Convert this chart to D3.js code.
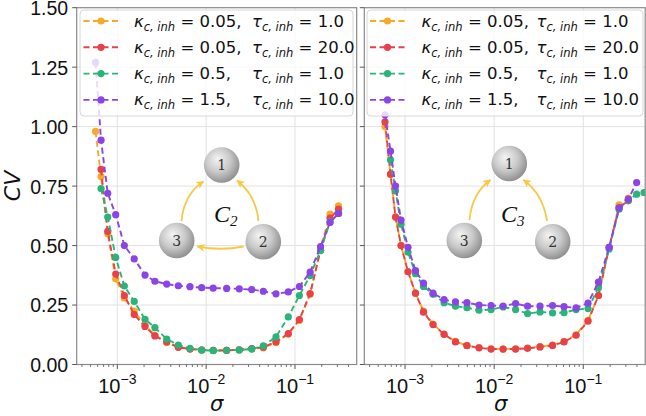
<!DOCTYPE html>
<html><head><meta charset="utf-8">
<script src="https://cdn.jsdelivr.net/npm/d3@7"></script>
<style>body{margin:0;background:#fff}svg{display:block}</style>
</head><body>
<svg id="c" width="646" height="416"></svg>
<script>
// ---------- data ----------
const sigmaLeft = [5.69e-4, 6.56e-4, 7.80e-4, 9.59e-4, 1.20e-3, 1.55e-3, 2.05e-3, 2.65e-3, 3.60e-3, 4.86e-3, 6.58e-3, 8.91e-3, 1.20e-2, 1.70e-2, 2.36e-2, 3.26e-2, 4.40e-2, 6.11e-2, 8.41e-2, 0.112, 0.148, 0.194, 0.248, 0.309];
const sigmaRight = [5.96e-4, 6.87e-4, 7.82e-4, 9.02e-4, 1.08e-3, 1.31e-3, 1.61e-3, 2.06e-3, 2.74e-3, 3.68e-3, 4.95e-3, 6.76e-3, 9.23e-3, 1.26e-2, 1.74e-2, 2.37e-2, 3.27e-2, 4.52e-2, 6.08e-2, 8.30e-2, 0.113, 0.148, 0.195, 0.252, 0.320, 0.397, 0.480];

const c2Orange = [0.98, 0.79, 0.55, 0.36, 0.28, 0.225, 0.165, 0.123, 0.092, 0.074, 0.066, 0.062, 0.060, 0.060, 0.062, 0.066, 0.070, 0.092, 0.128, 0.185, 0.295, 0.49, 0.632, 0.667];
const c2Red    = [null, 0.82, 0.56, 0.38, 0.29, 0.21, 0.16, 0.12, 0.095, 0.072, 0.065, 0.061, 0.059, 0.059, 0.062, 0.067, 0.073, 0.095, 0.13, 0.189, 0.298, 0.48, 0.615, 0.653];
const c2Green  = [null, 0.74, 0.62, 0.45, 0.33, 0.265, 0.19, 0.155, 0.107, 0.082, 0.068, 0.061, 0.058, 0.060, 0.061, 0.065, 0.078, 0.116, 0.20, 0.29, 0.374, 0.479, 0.60, 0.635];
const c2Purple = [1.27, 0.943, 0.72, 0.63, 0.50, 0.444, 0.376, 0.35, 0.338, 0.331, 0.327, 0.323, 0.321, 0.32, 0.318, 0.315, 0.308, 0.297, 0.305, 0.328, 0.388, 0.496, 0.597, 0.635];

const c3Orange = [1.0, 0.80, 0.62, 0.50, 0.39, 0.30, 0.225, 0.17, 0.128, 0.097, 0.080, 0.071, 0.066, 0.065, 0.066, 0.069, 0.075, 0.082, 0.097, 0.125, 0.186, 0.29, 0.49, 0.671, 0.70, null, null];
const c3Red    = [1.02, 0.80, 0.62, 0.50, 0.39, 0.30, 0.22, 0.168, 0.127, 0.095, 0.079, 0.07, 0.065, 0.065, 0.065, 0.068, 0.074, 0.08, 0.095, 0.123, 0.182, 0.29, 0.493, 0.66, 0.688, null, null];
const c3Green  = [null, 0.86, 0.73, 0.59, 0.472, 0.382, 0.328, 0.295, 0.26, 0.245, 0.239, 0.228, 0.231, 0.242, 0.231, 0.214, 0.221, 0.217, 0.218, 0.231, 0.235, 0.323, 0.486, 0.653, 0.69, 0.716, 0.723];
const c3Purple = [1.05, 0.897, 0.75, 0.607, 0.493, 0.395, 0.342, 0.30, 0.273, 0.263, 0.26, 0.25, 0.248, 0.246, 0.256, 0.245, 0.245, 0.248, 0.243, 0.238, 0.258, 0.346, 0.493, 0.658, 0.695, 0.765, null];

const kappaLabels = ["0.05", "0.05", "0.5", "1.5"];
const tauLabels = ["1.0", "20.0", "1.0", "10.0"];
const seriesColors = ["#f7aa27", "#e8414c", "#2bb479", "#8b44e6"];
const yTicks = [0, 0.25, 0.5, 0.75, 1.0, 1.25, 1.5];
const xTicks = [1e-3, 1e-2, 1e-1];
const xTickExp = ["\u22123", "\u22122", "\u22121"];
const xDomain = [3.49e-4, 0.495];
const yDomain = [0, 1.5];

// ---------- drawing ----------
const svg = d3.select("#c");
const defs = svg.append("defs");
const grad = defs.append("radialGradient").attr("id","ball").attr("cx","42%").attr("cy","40%").attr("r","62%").attr("fx","38%").attr("fy","32%");
grad.append("stop").attr("offset","0%").attr("stop-color","#f4f4f4");
grad.append("stop").attr("offset","55%").attr("stop-color","#c9c9c9");
grad.append("stop").attr("offset","100%").attr("stop-color","#8e8e8e");
defs.append("marker").attr("id","arr").attr("viewBox","0 0 10 10").attr("refX",9).attr("refY",5)
  .attr("markerWidth",8).attr("markerHeight",8).attr("markerUnits","userSpaceOnUse").attr("orient","auto")
  .append("path").attr("d","M0,0 L10,5 L0,10 L2.5,5 Z").attr("fill","#f7c944");

const y = d3.scaleLinear().domain(yDomain).range([364.5, 7.7]);

const panels = [
  {id:"L", x0:76.7, x1:356.7, sigma:sigmaLeft, series:[c2Orange,c2Red,c2Green,c2Purple], labels:true,
   legend:{x:80, w:273, lineX:83.5, kX:134, tX:252},
   net:{n1:[221.7,165], n3:[176.7,240.5], n2:[263.3,241.7], lab:[214,222], sub:"2",
        arrows:["M181.5,221 Q184,194 203.5,181.5","M258.5,221 Q256,195 237,180.5","M243.5,246.5 Q221,251 197.5,246.5"]}},
  {id:"R", x0:364.3, x1:645.2, sigma:sigmaRight, series:[c3Orange,c3Red,c3Green,c3Purple], labels:false,
   legend:{x:367, w:276, lineX:370, kX:421.5, tX:536.5},
   net:{n1:[509.3,163.5], n3:[464.3,240.5], n2:[552.7,241.7], lab:[501,222], sub:"3",
        arrows:["M469.5,220 Q472,193 490.5,180","M547,221 Q543,194 523.5,180"]}}
];

panels.forEach(p => {
  const x = d3.scaleLog().domain(xDomain).range([p.x0, p.x1]);
  const g = svg.append("g");
  defs.append("clipPath").attr("id","clip"+p.id).append("rect")
    .attr("x",p.x0).attr("y",y(1.5)).attr("width",p.x1-p.x0).attr("height",y(0)-y(1.5));

  // grid
  g.append("g").selectAll("line").data(yTicks.slice(1,-1)).join("line")
    .attr("x1",p.x0).attr("x2",p.x1).attr("y1",d=>y(d)).attr("y2",d=>y(d))
    .attr("stroke","#e2e2e2").attr("stroke-width",1);
  g.append("g").selectAll("line").data(xTicks).join("line")
    .attr("x1",d=>x(d)).attr("x2",d=>x(d)).attr("y1",y(0)).attr("y2",y(1.5))
    .attr("stroke","#e2e2e2").attr("stroke-width",1);

  // series
  const dg = g.append("g").attr("clip-path",`url(#clip${p.id})`);
  p.series.forEach((vals, si) => {
    const pts = vals.map((v,i)=>({s:p.sigma[i], v})).filter(d=>d.v!==null);
    const line = d3.line().x(d=>x(d.s)).y(d=>y(d.v));
    dg.append("path").attr("d", line(pts)).attr("fill","none")
      .attr("stroke", seriesColors[si]).attr("stroke-width",1.9).attr("stroke-dasharray","6,3.5");
    dg.append("g").selectAll("circle").data(pts).join("circle")
      .attr("cx",d=>x(d.s)).attr("cy",d=>y(d.v)).attr("r",3.6).attr("fill",seriesColors[si]);
  });

  // network diagram
  const n = p.net;
  const ng = g.append("g");
  n.arrows.forEach(a => ng.append("path").attr("d",a).attr("fill","none")
    .attr("stroke","#f7c944").attr("stroke-width",1.8).attr("marker-end","url(#arr)"));
  [[n.n1,"1"],[n.n2,"2"],[n.n3,"3"]].forEach(([c,t]) => {
    ng.append("circle").attr("cx",c[0]).attr("cy",c[1]).attr("r",17.8).attr("fill","url(#ball)");
    ng.append("text").attr("x",c[0]).attr("y",c[1]+5).attr("text-anchor","middle")
      .attr("font-family","DejaVu Serif").attr("font-size",14).attr("fill","#333").text(t);
  });
  const lt = ng.append("text").attr("x",n.lab[0]).attr("y",n.lab[1]).attr("font-family","Liberation Serif")
    .attr("font-style","italic").attr("font-size",24).attr("fill","#111");
  lt.append("tspan").text("C");
  lt.append("tspan").attr("font-size",15).attr("dy",4).text(n.sub);

  // frame
  g.append("rect").attr("x",p.x0).attr("y",y(1.5)).attr("width",p.x1-p.x0).attr("height",y(0)-y(1.5))
    .attr("fill","none").attr("stroke","#8a8a8a").attr("stroke-width",1.2);

  // y ticks
  g.append("g").selectAll("line").data(yTicks).join("line")
    .attr("x1",p.x0-4.5).attr("x2",p.x0).attr("y1",d=>y(d)).attr("y2",d=>y(d))
    .attr("stroke","#555").attr("stroke-width",1);
  if (p.labels) {
    g.append("g").selectAll("text").data(yTicks).join("text")
      .attr("x",p.x0-8.5).attr("y",d=>y(d)+7.4).attr("text-anchor","end")
      .attr("font-family","Liberation Sans").attr("font-size",19.5).attr("fill","#111")
      .text(d=>d3.format(".2f")(d));
  }
  // x ticks (major + minor)
  const minors = [];
  for (let e=-4; e<=0; e++) for (let m=2; m<=9; m++) { const v=m*Math.pow(10,e); if (v>xDomain[0] && v<xDomain[1]) minors.push(v); }
  g.append("g").selectAll("line").data(minors).join("line")
    .attr("x1",d=>x(d)).attr("x2",d=>x(d)).attr("y1",y(0)).attr("y2",y(0)+2.5)
    .attr("stroke","#555").attr("stroke-width",0.8);
  g.append("g").selectAll("line").data(xTicks).join("line")
    .attr("x1",d=>x(d)).attr("x2",d=>x(d)).attr("y1",y(0)).attr("y2",y(0)+4.5)
    .attr("stroke","#555").attr("stroke-width",1);
  const xt = g.append("g").selectAll("text").data(xTicks).join("text")
    .attr("x",d=>x(d)).attr("y",392.5).attr("text-anchor","middle")
    .attr("font-family","Liberation Sans").attr("font-size",20).attr("fill","#111");
  xt.append("tspan").text("10");
  xt.append("tspan").attr("font-size",14).attr("dy",-8.5).text((d,i)=>xTickExp[i]);

  // x label
  g.append("text").attr("x",(p.x0+p.x1)/2 - (p.labels?0:4)).attr("y",411).attr("text-anchor","middle")
    .attr("font-family","DejaVu Sans").attr("font-style","italic").attr("font-size",21).attr("fill","#111").text("σ");

  // legend
  const L = p.legend;
  const lg = g.append("g");
  lg.append("rect").attr("x",L.x).attr("y",10).attr("width",L.w).attr("height",106).attr("rx",4)
    .attr("fill","#fff").attr("fill-opacity",0.8).attr("stroke","#d6d6d6").attr("stroke-width",1);
  const rowY = [21, 47.3, 73.6, 99.9];
  seriesColors.forEach((c,i) => {
    lg.append("line").attr("x1",L.lineX).attr("x2",L.lineX+35).attr("y1",rowY[i]).attr("y2",rowY[i])
      .attr("stroke",c).attr("stroke-width",1.9).attr("stroke-dasharray","6,3.5");
    lg.append("circle").attr("cx",L.lineX+17.5).attr("cy",rowY[i]).attr("r",3.6).attr("fill",c);
    const t1 = lg.append("text").attr("x",L.kX).attr("y",rowY[i]+5.5).attr("font-family","DejaVu Sans").attr("font-size",16.5).attr("fill","#111");
    t1.append("tspan").attr("font-style","italic").text("κ");
    t1.append("tspan").attr("font-style","italic").attr("font-size",11.5).attr("dy",4).text("c, inh");
    t1.append("tspan").attr("dy",-4).text(" = " + kappaLabels[i] + ",");
    const t2 = lg.append("text").attr("x",L.tX).attr("y",rowY[i]+5.5).attr("font-family","DejaVu Sans").attr("font-size",16.5).attr("fill","#111");
    t2.append("tspan").attr("font-style","italic").text("τ");
    t2.append("tspan").attr("font-style","italic").attr("font-size",11.5).attr("dy",4).text("c, inh");
    t2.append("tspan").attr("dy",-4).text(" = " + tauLabels[i]);
  });
});

// y label
svg.append("text").attr("transform","translate(20,186) rotate(-90)").attr("text-anchor","middle")
  .attr("font-family","DejaVu Sans").attr("font-style","italic").attr("font-size",22).attr("fill","#111").text("CV");
</script>
</body></html>
